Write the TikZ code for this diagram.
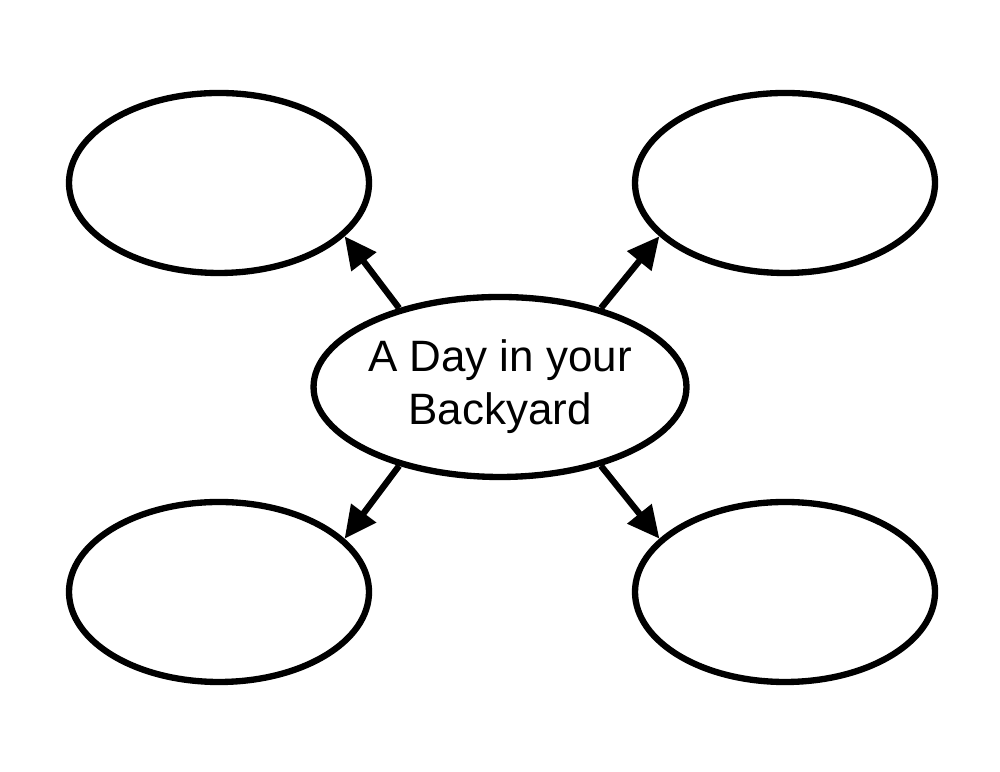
\documentclass[tikz,border=0pt]{standalone}
\usepackage{fontspec}
\setmainfont{Liberation Sans}
\usetikzlibrary{positioning,arrows.meta,shapes.geometric}

\begin{document}
\begin{tikzpicture}[
    bubble/.style={ellipse, draw=black, line width=1.8pt, minimum width=3.0cm, minimum height=1.8cm, inner sep=0pt},
    link/.style={-{Triangle[length=0.32cm,width=0.3cm]}, line width=1.8pt}
    ]
        \useasboundingbox (0,0) rectangle (10,7.72);
        %Nodes
        \node[bubble, align=center, font=\fontsize{12.5}{15}\selectfont]
            (day)   at (5.00,3.85)  {A Day in your\\Backyard};
        \node[bubble]   (tl)    at (2.19,5.89)  {};
        \node[bubble]   (tr)    at (7.85,5.89)  {};
        \node[bubble]   (bl)    at (2.19,1.80)  {};
        \node[bubble]   (br)    at (7.85,1.80)  {};

        %Lines
        \draw[link] (day.142) -- (tl.-23);
        \draw[link] (day.38) -- (tr.203);
        \draw[link] (day.218) -- (bl.23);
        \draw[link] (day.-38) -- (br.157);
    \end{tikzpicture}
\end{document}
